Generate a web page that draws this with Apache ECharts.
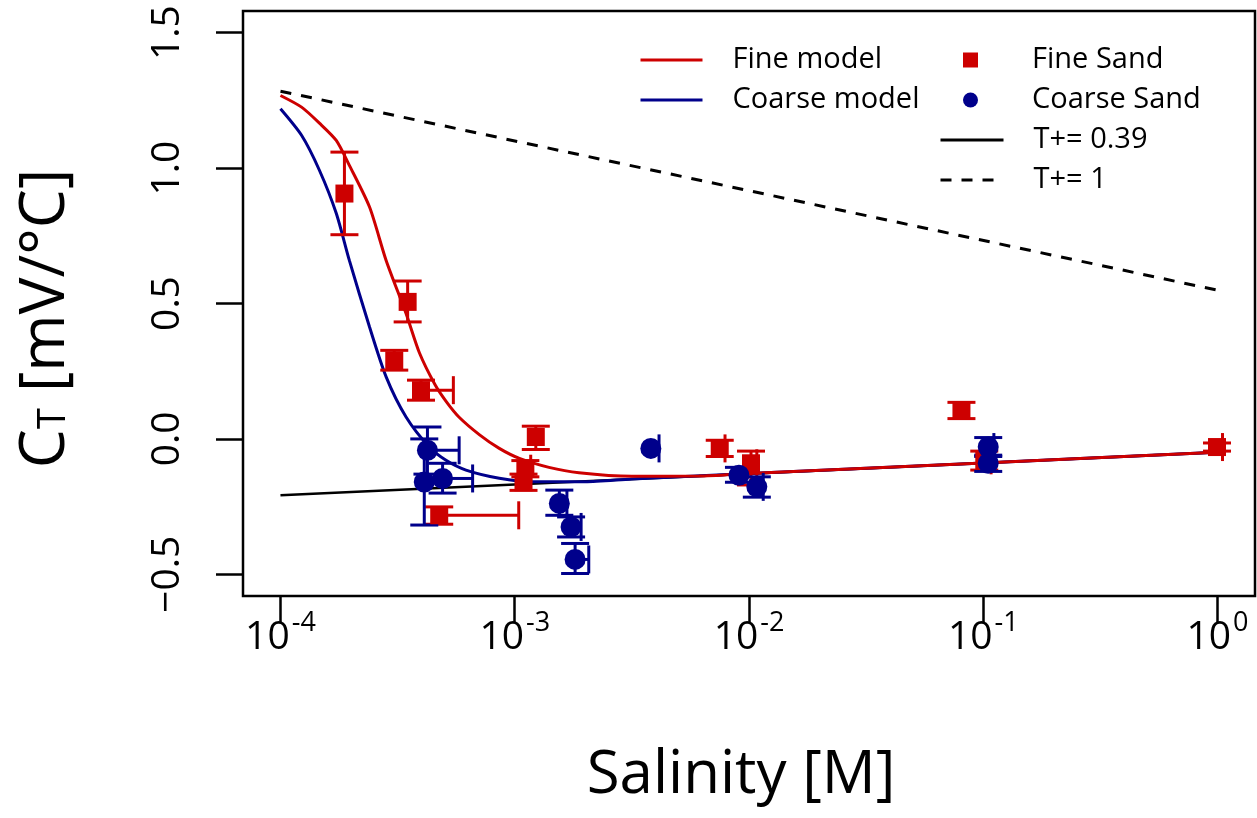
<!DOCTYPE html>
<html lang="en">
<head>
<meta charset="UTF-8">
<title>C_T vs salinity</title>
<script src="https://cdn.jsdelivr.net/npm/echarts@6/dist/echarts.min.js"></script>
<style>
  html, body { margin: 0; padding: 0; background: #fff; }
  #main { width: 1257px; height: 818px; }
</style>
</head>
<body>
<div id="main"></div>
<script>
    // salinity in M, C_T in mV/°C
    var fineModelX = [1e-4, 1.23e-4, 1.466e-4, 1.73e-4, 1.968e-4, 2.4e-4, 2.825e-4, 3.436e-4, 3.917e-4, 4.57e-4, 5.13e-4, 5.79e-4, 7.08e-4, 8.59e-4, 1.047e-3, 1.4e-3, 1.88e-3, 3.16e-3, 6.12e-3, 1e-2, 1e-1, 1];
    var fineModelY = [1.268, 1.225, 1.166, 1.102, 1.010, 0.856, 0.659, 0.463, 0.318, 0.20, 0.135, 0.08, 0.015, -0.035, -0.072, -0.105, -0.125, -0.138, -0.137, -0.128, -0.089, -0.049];

    var coarseModelX = [1e-4, 1.23e-4, 1.466e-4, 1.73e-4, 1.968e-4, 2.4e-4, 2.825e-4, 3.436e-4, 4.32e-4, 5.09e-4, 6.19e-4, 8.59e-4, 1.19e-3, 2e-3, 3.16e-3, 1e-2, 1e-1, 1];
    var coarseModelY = [1.219, 1.121, 0.992, 0.833, 0.659, 0.413, 0.229, 0.081, -0.030, -0.079, -0.115, -0.145, -0.158, -0.158, -0.148, -0.128, -0.089, -0.049];

    var t039X = [1e-4, 1];
    var t039Y = [-0.208, -0.049];
    var t1X = [1e-4, 1];
    var t1Y = [1.284, 0.549];

    // measured points, with error bar ends
    var fineSandX   = [1.875e-4, 3.49e-4, 3.06e-4, 3.98e-4, 4.76e-4, 1.23e-3, 1.11e-3, 1.09e-3, 7.5e-3, 1.02e-2, 8.07e-2, 0.101, 0.995];
    var fineSandY   = [0.906, 0.506, 0.290, 0.180, -0.282, 0.007, -0.110, -0.160, -0.035, -0.090, 0.106, -0.079, -0.030];
    var fineSandYLo = [0.754, 0.432, 0.254, 0.143, -0.315, -0.039, -0.140, -0.190, -0.065, -0.170, 0.075, -0.115, -0.045];
    var fineSandYHi = [1.059, 0.583, 0.327, 0.217, -0.251, 0.047, -0.080, -0.130, -0.005, -0.045, 0.135, -0.045, -0.015];
    var fineSandXHi = [1.875e-4, 3.49e-4, 3.06e-4, 5.47e-4, 1.04e-3, 1.23e-3, 1.17e-3, 1.09e-3, 7.9e-3, 1.08e-2, 8.07e-2, 0.108, 1.05];

    var coarseSandX   = [4.24e-4, 4.11e-4, 4.92e-4, 1.55e-3, 1.74e-3, 1.81e-3, 3.81e-3, 9.06e-3, 1.08e-2, 0.105, 0.105];
    var coarseSandY   = [-0.042, -0.159, -0.146, -0.238, -0.325, -0.445, -0.035, -0.134, -0.177, -0.030, -0.090];
    var coarseSandYLo = [-0.130, -0.318, -0.200, -0.282, -0.362, -0.497, -0.035, -0.160, -0.215, -0.065, -0.120];
    var coarseSandYHi = [0.044, 0.000, -0.090, -0.189, -0.288, -0.386, -0.035, -0.105, -0.140, 0.005, -0.060];
    var coarseSandXHi = [5.79e-4, 4.11e-4, 6.61e-4, 1.67e-3, 1.92e-3, 2.07e-3, 4.13e-3, 9.06e-3, 1.15e-2, 0.111, 0.105];

    var xTickExp = [-4, -3, -2, -1, 0];
    var yTicks = [-0.5, 0, 0.5, 1, 1.5];

    var RED = '#CD0000', BLUE = '#00008B';
    var FONT = 'Open Sans';

    function pairs(xs, ys) {
        var out = [];
        for (var i = 0; i < xs.length; i++) out.push([Math.log10(xs[i]), ys[i]]);
        return out;
    }
    function errData(xs, ys, lo, hi, xhi) {
        var out = [];
        for (var i = 0; i < xs.length; i++) out.push([Math.log10(xs[i]), ys[i], lo[i], hi[i], Math.log10(xhi[i])]);
        return out;
    }
    function errorBars(color) {
        return function (params, api) {
            var x = api.value(0), y = api.value(1);
            var c = api.coord([x, y]);
            var lo = api.coord([x, api.value(2)]);
            var hi = api.coord([x, api.value(3)]);
            var rt = api.coord([api.value(4), y]);
            var cap = 14;
            var st = { stroke: color, lineWidth: 3 };
            var kids = [];
            if (lo[1] - hi[1] > 1) {
                kids.push({ type: 'line', shape: { x1: lo[0], y1: lo[1], x2: hi[0], y2: hi[1] }, style: st });
                kids.push({ type: 'line', shape: { x1: lo[0] - cap, y1: lo[1], x2: lo[0] + cap, y2: lo[1] }, style: st });
                kids.push({ type: 'line', shape: { x1: hi[0] - cap, y1: hi[1], x2: hi[0] + cap, y2: hi[1] }, style: st });
            }
            if (rt[0] - c[0] > 1) {
                kids.push({ type: 'line', shape: { x1: c[0], y1: c[1], x2: rt[0], y2: rt[1] }, style: st });
                kids.push({ type: 'line', shape: { x1: rt[0], y1: rt[1] - cap, x2: rt[0], y2: rt[1] + cap }, style: st });
            }
            return { type: 'group', children: kids };
        };
    }

    var myChart = echarts.init(document.getElementById('main'));

    function legendText(padLeft) {
        return { fontFamily: FONT, fontSize: 29, color: '#000', lineHeight: 30, padding: [0, 0, 0, padLeft] };
    }

    var option = {
        animation: false,
        backgroundColor: '#fff',
        textStyle: { fontFamily: FONT },
        grid: {
            left: 243, top: 11, right: 2, bottom: 222,
            show: true, borderColor: '#000', borderWidth: 2.5, backgroundColor: 'transparent'
        },
        legend: [
            {
                data: ['Fine model', 'Coarse model'],
                orient: 'vertical', left: 639, top: 45, padding: 0,
                itemWidth: 62, itemHeight: 14, itemGap: 10,
                itemStyle: { opacity: 0 },
                lineStyle: { width: 3 },
                textStyle: legendText(25)
            },
            {
                data: [{ name: 'Fine Sand', icon: 'rect' }, { name: 'Coarse Sand', icon: 'circle' }],
                orient: 'vertical', left: 963, top: 45, padding: 0,
                itemWidth: 15, itemHeight: 15, itemGap: 10,
                textStyle: legendText(49)
            },
            {
                data: ['T+= 0.39', 'T+= 1'],
                orient: 'vertical', left: 939, top: 125, padding: 0,
                itemWidth: 63, itemHeight: 14, itemGap: 10,
                itemStyle: { opacity: 0 },
                lineStyle: { width: 3 },
                textStyle: legendText(25)
            }
        ],
        xAxis: {
            type: 'value',
            min: -4.16, max: 0.16,
            name: 'Salinity [M]',
            nameLocation: 'middle',
            nameGap: 150,
            nameTextStyle: { fontFamily: FONT, fontSize: 60, color: '#000', padding: [0, 16, 0, 0] },
            axisLine: { show: false, onZero: false },
            splitLine: { show: false },
            axisTick: { show: true, customValues: xTickExp, length: 27, lineStyle: { color: '#000', width: 2.5 } },
            axisLabel: {
                customValues: xTickExp,
                margin: 14,
                color: '#000',
                formatter: function (v) { return '{b|10}{s|' + v + '}'; },
                rich: {
                    b: { fontFamily: FONT, fontSize: 39, color: '#000', verticalAlign: 'bottom' },
                    s: { fontFamily: FONT, fontSize: 27, color: '#000', verticalAlign: 'bottom', padding: [0, 0, 20, 2] }
                }
            }
        },
        yAxis: {
            type: 'value',
            min: -0.58, max: 1.58,
            name: '{c|C}{t|T}{c| [mV/°C]}',
            nameLocation: 'middle',
            nameRotate: 90,
            nameGap: 166,
            nameTextStyle: {
                padding: [0, 30, 0, 0],
                rich: {
                    c: { fontFamily: FONT, fontSize: 62, color: '#000', verticalAlign: 'bottom' },
                    t: { fontFamily: FONT, fontSize: 38, color: '#000', verticalAlign: 'bottom', padding: [0, 0, 4, 0] }
                }
            },
            axisLine: { show: false, onZero: false },
            splitLine: { show: false },
            axisTick: { show: true, customValues: yTicks, length: 27, lineStyle: { color: '#000', width: 2.5 } },
            axisLabel: {
                customValues: yTicks,
                rotate: 90,
                margin: 56,
                fontFamily: FONT, fontSize: 39, color: '#000',
                formatter: function (v) { return v.toFixed(1).replace('-', '\u2212'); }
            }
        },
        series: [
            {
                name: 'T+= 0.39', type: 'line', data: pairs(t039X, t039Y),
                symbol: 'none', lineStyle: { color: '#000', width: 2.5 }, itemStyle: { color: '#000' }, z: 2
            },
            {
                name: 'T+= 1', type: 'line', data: pairs(t1X, t1Y),
                symbol: 'none', lineStyle: { color: '#000', width: 3, type: [11, 10] }, itemStyle: { color: '#000' }, z: 2
            },
            {
                name: 'Coarse model', type: 'line', data: pairs(coarseModelX, coarseModelY),
                symbol: 'none', smooth: 0.25,
                lineStyle: { color: BLUE, width: 3 }, itemStyle: { color: BLUE }, z: 3
            },
            {
                name: 'Fine model', type: 'line', data: pairs(fineModelX, fineModelY),
                symbol: 'none', smooth: 0.25,
                lineStyle: { color: RED, width: 3 }, itemStyle: { color: RED }, z: 3
            },
            {
                name: 'fineErr', type: 'custom', renderItem: errorBars(RED),
                data: errData(fineSandX, fineSandY, fineSandYLo, fineSandYHi, fineSandXHi),
                encode: { x: 0, y: 1 }, z: 4
            },
            {
                name: 'coarseErr', type: 'custom', renderItem: errorBars(BLUE),
                data: errData(coarseSandX, coarseSandY, coarseSandYLo, coarseSandYHi, coarseSandXHi),
                encode: { x: 0, y: 1 }, z: 4
            },
            {
                name: 'Fine Sand', type: 'scatter', data: pairs(fineSandX, fineSandY),
                symbol: 'rect', symbolSize: 18, itemStyle: { color: RED, opacity: 1 }, z: 5
            },
            {
                name: 'Coarse Sand', type: 'scatter', data: pairs(coarseSandX, coarseSandY),
                symbol: 'circle', symbolSize: 21, itemStyle: { color: BLUE, opacity: 1 }, z: 5
            }
        ]
    };

    myChart.setOption(option);
</script>
</body>
</html>
